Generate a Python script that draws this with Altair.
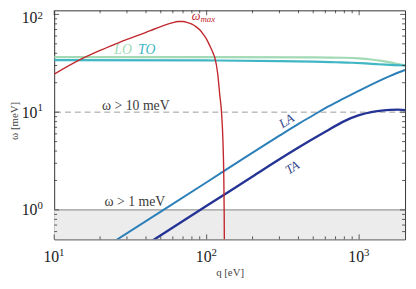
import altair as alt
import pandas as pd

# ---------------- data ----------------
q_max = [10, 15, 20, 25, 30, 35, 40, 45, 50, 55, 60, 65, 70, 75, 80, 85, 90, 95, 100,
         105, 110, 113, 118, 122, 125, 128, 129.5, 130.3, 130.8]
w_max = [24.5, 34.8, 42.8, 49.5, 55.5, 60.5, 65.5, 70.5, 75, 79, 82.5, 84.5, 84.5, 82.5, 79.5,
         75, 69.5, 62.5, 55.5, 47.5, 40.5, 36.3, 25, 14.8, 10.2, 4.8, 2.2, 0.9, 0.3]

q_LO = [10, 100, 500, 800, 1000, 1200, 1400, 1600, 1800, 2000]
w_LO = [36.5, 36.5, 36.3, 36, 35.5, 34.6, 33.5, 32.3, 31, 30.1]

q_TO = [10, 100, 300, 500, 700, 900, 1100, 1300, 1500, 1700, 2000]
w_TO = [34, 33.8, 33.3, 32.9, 32.4, 32, 31.5, 31, 30.6, 30.3, 30]

q_LA = [20, 50, 100, 200, 300, 400, 500, 600, 800, 1000, 1300, 1600, 2000]
w_LA = [0.385, 0.96, 1.92, 3.85, 5.75, 7.6, 9.3, 11, 13.9, 16.6, 20.3, 23.5, 27]

q_TA = [40, 100, 200, 300, 400, 600, 800, 1000, 1200, 1400, 1600, 1800, 2000]
w_TA = [0.44, 1.1, 2.2, 3.3, 4.35, 6.3, 8.1, 9.3, 10.0, 10.35, 10.55, 10.6, 10.5]

thresholds = [1, 10]
threshold_labels = ["ω > 1 meV", "ω > 10 meV"]

x_major = [10, 100, 1000]
x_major_exp = ["1", "2", "3"]
x_minor = [20, 30, 40, 50, 60, 70, 80, 90, 200, 300, 400, 500, 600, 700, 800, 900]
y_major = [1, 10, 100]
y_major_exp = ["0", "1", "2"]
y_minor = [0.6, 0.7, 0.8, 0.9, 2, 3, 4, 5, 6, 7, 8, 9, 20, 30, 40, 50, 60, 70, 80, 90]

# annotation anchors (data coordinates)
ann_q = {"wmax": 91, "LO": 28.3, "TO": 40.4, "t10": 34.3, "t1": 33.8, "LA": 335, "TA": 365}
ann_w = {"wmax": 97, "LO": 43, "TO": 43, "t10": 11.6, "t1": 1.19, "LA": 8.1, "TA": 2.7}

# ---------------- styling ----------------
W, H = 357, 233
FONT = "Liberation Serif"
RED = "#c1272d"
C_LO, C_TO, C_LA, C_TA = "#a1dab4", "#41b6c4", "#2c7fb8", "#253494"
C_TXT = "#3a3a3a"

xs = alt.Scale(type="log", domain=[10, 2000], nice=False)
ys = alt.Scale(type="log", domain=[0.5, 110], nice=False)

x_axis = alt.Axis(title="q [eV]", labels=False, ticks=False, domain=False, grid=False,
                  titleFont=FONT, titleFontSize=11, titleFontWeight="normal", titleColor="#444",
                  titleY=37, titleBaseline="alphabetic")
y_axis = alt.Axis(title="ω [meV]", labels=False, ticks=False, domain=False, grid=False,
                  titleFont=FONT, titleFontSize=11, titleFontWeight="normal", titleColor="#444",
                  titleAngle=270, titleX=-37, titleY=112, titleAlign="center",
                  titleBaseline="alphabetic")

X = alt.X("q:Q", scale=xs, axis=x_axis)
Y = alt.Y("w:Q", scale=ys, axis=y_axis)


def df(q, w):
    return pd.DataFrame({"q": q, "w": w})


layers = []

# shaded region below 1 meV
layers.append(
    alt.Chart(pd.DataFrame({"w": [thresholds[0]]})).mark_rect(color="#ececec")
    .encode(y=Y, y2=alt.value(H), x=alt.value(0), x2=alt.value(W))
)
# threshold lines
layers.append(
    alt.Chart(pd.DataFrame({"w": [thresholds[0]]})).mark_rule(color="#9a9a9a", strokeWidth=1.2)
    .encode(y=Y)
)
layers.append(
    alt.Chart(pd.DataFrame({"w": [thresholds[1]]})).mark_rule(color="#9a9a9a", strokeWidth=1,
                                                               strokeDash=[6, 4])
    .encode(y=Y)
)

# curves
for q, w, c, sw in [(q_LO, w_LO, C_LO, 2.2), (q_TO, w_TO, C_TO, 2.2),
                    (q_LA, w_LA, C_LA, 2.0), (q_TA, w_TA, C_TA, 2.4)]:
    layers.append(
        alt.Chart(df(q, w)).mark_line(color=c, strokeWidth=sw, interpolate="monotone", clip=True)
        .encode(x=X, y=Y)
    )
layers.append(
    alt.Chart(df(q_max, w_max)).mark_line(color=RED, strokeWidth=1.4, interpolate="monotone", clip=True)
    .encode(x=X, y=Y)
)

# annotations
def label(key, text, color, size, italic=False, angle=0, dx=0, dy=0, align="center"):
    return alt.Chart(pd.DataFrame({"q": [ann_q[key]], "w": [ann_w[key]], "t": [text]})).mark_text(
        font=FONT, fontSize=size, color=color, fontStyle="italic" if italic else "normal",
        angle=angle, dx=dx, dy=dy, align=align, baseline="middle"
    ).encode(x=X, y=Y, text="t:N")

layers += [
    label("wmax", "ω", RED, 12.5, italic=True, align="right"),
    label("wmax", "max", RED, 9, italic=True, align="left", dy=3),
    label("LO", "LO", C_LO, 14, italic=True),
    label("TO", "TO", C_TO, 14, italic=True),
    label("t10", threshold_labels[1], C_TXT, 14),
    label("t1", threshold_labels[0], C_TXT, 14),
    label("LA", "LA", "#34478a", 13, italic=True, angle=327),
    label("TA", "TA", "#34478a", 13, italic=True, angle=327),
]

# inward tick marks on all four sides
def xticks(vals, length):
    d = pd.DataFrame({"q": vals})
    bot = alt.Chart(d).mark_rule(color="#333", strokeWidth=0.8).encode(
        x=X, y=alt.value(H), y2=alt.value(H - length))
    top = alt.Chart(d).mark_rule(color="#333", strokeWidth=0.8).encode(
        x=X, y=alt.value(0), y2=alt.value(length))
    return [bot, top]

def yticks(vals, length):
    d = pd.DataFrame({"w": vals})
    left = alt.Chart(d).mark_rule(color="#333", strokeWidth=0.8).encode(
        y=Y, x=alt.value(0), x2=alt.value(length))
    right = alt.Chart(d).mark_rule(color="#333", strokeWidth=0.8).encode(
        y=Y, x=alt.value(W), x2=alt.value(W - length))
    return [left, right]

layers += xticks(x_major, 5) + xticks(x_minor, 3) + yticks(y_major, 5) + yticks(y_minor, 3)

# tick labels 10^n
xl = pd.DataFrame({"q": x_major, "e": x_major_exp, "b": ["10"] * 3})
layers.append(alt.Chart(xl).mark_text(font=FONT, fontSize=16, color="#222", align="center",
                                      baseline="middle", dx=-3)
              .encode(x=X, y=alt.value(H + 18), text="b:N"))
layers.append(alt.Chart(xl).mark_text(font=FONT, fontSize=11, color="#222", align="left",
                                      baseline="middle", dx=5)
              .encode(x=X, y=alt.value(H + 13.5), text="e:N"))

yl_low = pd.DataFrame({"w": y_major[:2], "e": y_major_exp[:2], "b": ["10"] * 2})
yl_top = pd.DataFrame({"w": y_major[2:], "e": y_major_exp[2:], "b": ["10"]})
for d, dy_b, dy_e in [(yl_low, 0.5, -4), (yl_top, 4, 1.8)]:
    layers.append(alt.Chart(d).mark_text(font=FONT, fontSize=16, color="#222", align="right",
                                         baseline="middle", dy=dy_b)
                  .encode(y=Y, x=alt.value(-17), text="b:N"))
    layers.append(alt.Chart(d).mark_text(font=FONT, fontSize=11, color="#222", align="left",
                                         baseline="middle", dy=dy_e)
                  .encode(y=Y, x=alt.value(-17), text="e:N"))

chart = alt.layer(*layers).properties(
    width=W, height=H,
    autosize=alt.AutoSizeParams(type="none"),
    padding={"left": 47, "top": 0, "right": 3, "bottom": 40},
).configure_view(stroke="#333", strokeWidth=1)

chart.save("out.html", embed_options={"renderer": "svg", "actions": False})
